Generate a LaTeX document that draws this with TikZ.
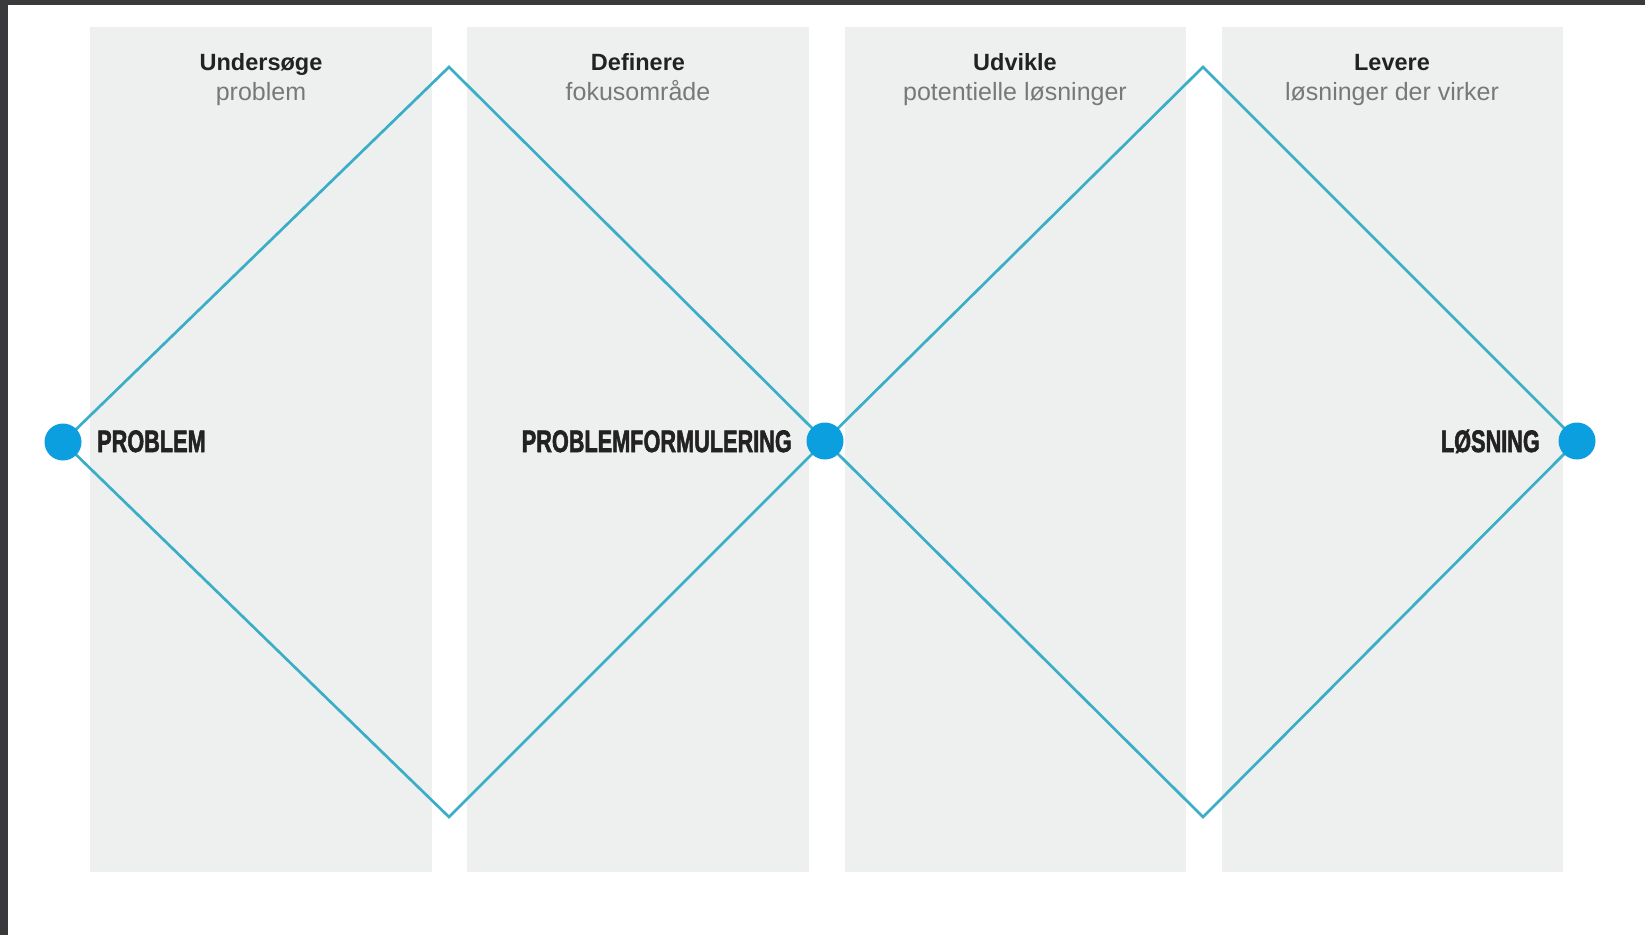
\documentclass[tikz,border=0pt]{standalone}
\usepackage{fontspec}
\setmainfont{Liberation Sans}
\newfontfamily\heavyfont[FakeBold=2.2]{Liberation Sans Bold}
\definecolor{frame}{HTML}{3A3A3C}
\definecolor{panel}{HTML}{EEF0EF}
\definecolor{teal}{HTML}{3AAEC6}
\definecolor{dot}{HTML}{0B9FDF}
\definecolor{subgray}{HTML}{787878}
\definecolor{ink}{HTML}{222222}
\tikzset{
  panelbox/.style={fill=panel, draw=none},
  head/.style={anchor=base, inner sep=0pt, text=ink, font=\fontsize{23.5}{28}\selectfont\bfseries},
  sub/.style={anchor=base, inner sep=0pt, text=subgray, font=\fontsize{25}{30}\selectfont},
  biglabel/.style={inner sep=0pt, text=ink},
  diamondline/.style={draw=teal, line width=2.7pt, line join=miter},
  dotnode/.style={circle, fill=dot, draw=none, minimum size=37pt, inner sep=0pt}
}
\newcommand{\bigtxt}[1]{\scalebox{0.70}[1]{\fontsize{31}{36}\selectfont\heavyfont #1}}
\begin{document}
\begin{tikzpicture}[x=1pt,y=-1pt]
\useasboundingbox (0,0) rectangle (1645,935);
\fill[white] (0,0) rectangle (1645,935);
\fill[frame] (0,0) rectangle (1645,5);
\fill[frame] (0,0) rectangle (8,935);
% panels
\fill[panelbox] (90,27) rectangle (432,872);
\fill[panelbox] (467,27) rectangle (809,872);
\fill[panelbox] (845,27) rectangle (1186,872);
\fill[panelbox] (1222,27) rectangle (1563,872);
% headings
\node[head] (h1) at (261,70) {Undersøge};
\node[sub]  (s1) at (261,100) {problem};
\node[head] (h2) at (638,70) {Definere};
\node[sub]  (s2) at (638,100) {fokusområde};
\node[head] (h3) at (1015,70) {Udvikle};
\node[sub]  (s3) at (1015,100) {potentielle løsninger};
\node[head] (h4) at (1392,70) {Levere};
\node[sub]  (s4) at (1392,100) {løsninger der virker};
% diamond points
\coordinate (t1) at (449,67);
\coordinate (b1) at (449,817);
\coordinate (t2) at (1203,67);
\coordinate (b2) at (1203,817);
\coordinate (cL) at (63,442);
\coordinate (cM) at (825,441);
\coordinate (cR) at (1577,441);
\draw[diamondline] (cL) -- (t1) -- (cM) -- (b1) -- cycle;
\draw[diamondline] (cM) -- (t2) -- (cR) -- (b2) -- cycle;
\node[dotnode] (pL) at (cL) {};
\node[dotnode] (pM) at (cM) {};
\node[dotnode] (pR) at (cR) {};
% labels
\node[biglabel, anchor=base west] (lp) at (97,452) {\bigtxt{PROBLEM}};
\node[biglabel, anchor=base east] (lpf) at (792,452) {\bigtxt{PROBLEMFORMULERING}};
\node[biglabel, anchor=base east] (ll) at (1540,452) {\bigtxt{LØSNING}};
\end{tikzpicture}
\end{document}
